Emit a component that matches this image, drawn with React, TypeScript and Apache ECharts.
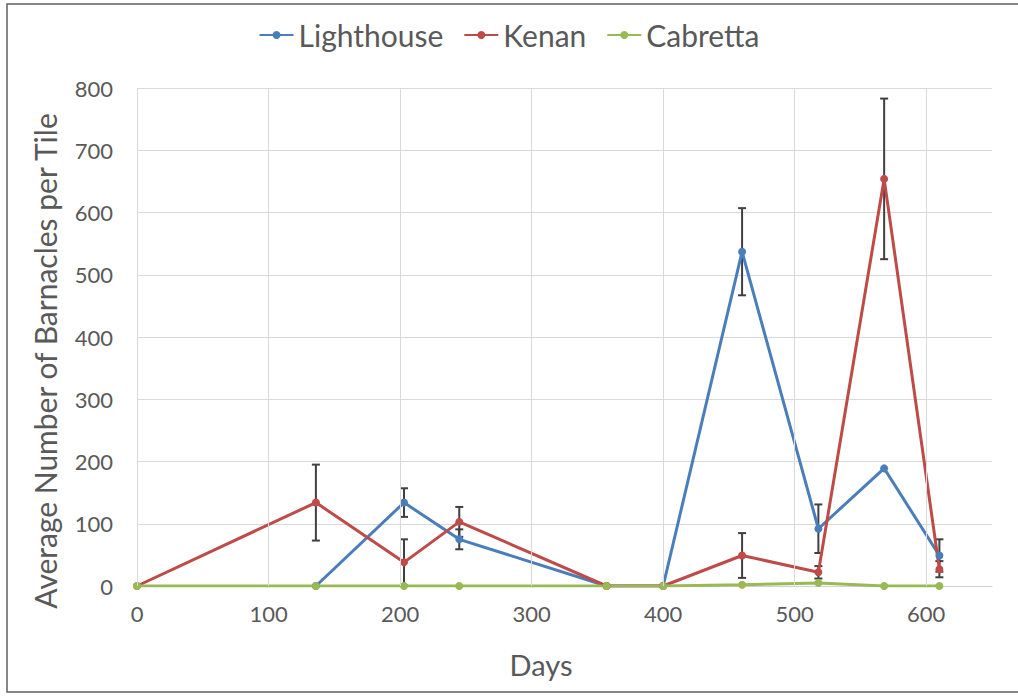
import React, { useEffect, useRef } from "react";
import * as echarts from "echarts";

const days = [0, 136, 203, 245, 357, 400, 460, 518, 568, 610];
const lighthouse = [null, 0, 134, 75, 0, 0, 537, 92, 189, 49];
const lighthouseErr = [null, null, 23, 16, null, null, 70, 39, null, 26];
const kenan = [0, 134, 38, 103, 0, 0, 49, 22, 654, 27];
const kenanErr = [null, 61, 37, 24, null, null, 36, 10, 129, 13];
const cabretta = [0, 0, 0, 0, 0, 0, 2, 5, 0, 0];
const xGridTicks = [0, 100, 200, 300, 400, 500, 600];

const FONT = "Lato, 'Open Sans', sans-serif";
const TEXT = "#595959";

function pairs(vals: (number | null)[]) {
  return days.map((d, i) => [d, vals[i]]);
}
function errData(vals: (number | null)[], errs: (number | null)[]) {
  const out: number[][] = [];
  days.forEach((d, i) => {
    const v = vals[i];
    const e = errs[i];
    if (v != null && e != null) out.push([d, Math.max(0, v - e), v + e]);
  });
  return out;
}

function errorSeries(name: string, data: number[][]) {
  return {
    type: "custom",
    name: name + " err",
    silent: true,
    z: 1,
    data,
    renderItem: (params: any, api: any) => {
      const x = api.value(0);
      const lo = api.coord([x, api.value(1)]);
      const hi = api.coord([x, api.value(2)]);
      const cap = 4;
      const style = { stroke: "#404040", lineWidth: 2 };
      return {
        type: "group",
        children: [
          { type: "line", shape: { x1: lo[0], y1: lo[1], x2: hi[0], y2: hi[1] }, style },
          { type: "line", shape: { x1: lo[0] - cap, y1: lo[1], x2: lo[0] + cap, y2: lo[1] }, style },
          { type: "line", shape: { x1: hi[0] - cap, y1: hi[1], x2: hi[0] + cap, y2: hi[1] }, style },
        ],
      };
    },
  };
}

function lineSeries(name: string, vals: (number | null)[], color: string) {
  return {
    type: "line",
    name,
    data: pairs(vals),
    z: 3,
    symbol: "circle",
    symbolSize: 8,
    showSymbol: true,
    connectNulls: false,
    itemStyle: { color },
    lineStyle: { color, width: 3 },
  };
}

export default function App() {
  const ref = useRef<HTMLDivElement>(null);
  useEffect(() => {
    if (!ref.current) return;
    const chart = echarts.init(ref.current, null, { renderer: "svg" });
    chart.setOption({
      animation: false,
      backgroundColor: "#ffffff",
      textStyle: { fontFamily: FONT },
      grid: { left: 137, right: 26, top: 88, bottom: 112 },
      legend: {
        data: ["Lighthouse", "Kenan", "Cabretta"],
        top: 15,
        left: "center",
        itemWidth: 34,
        itemHeight: 10,
        itemGap: 20,
        textStyle: { fontSize: 30, color: TEXT, fontFamily: FONT },
      },
      xAxis: {
        type: "value",
        min: 0,
        max: 650,
        interval: 100,
        axisLine: { show: true, lineStyle: { color: "#d0d0d0", width: 1 } },
        axisTick: { show: false },
        splitLine: { show: false },
        axisLabel: { showMaxLabel: false, fontSize: 22, color: TEXT, margin: 16, fontFamily: FONT },
      },
      yAxis: {
        type: "value",
        min: 0,
        max: 800,
        interval: 100,
        axisLine: { show: false },
        axisTick: { show: false },
        splitLine: { show: true, lineStyle: { color: "#d9d9d9", width: 1 } },
        axisLabel: { fontSize: 22, color: TEXT, margin: 24, fontFamily: FONT },
      },
      graphic: [
        {
          type: "rect",
          shape: { x: 7, y: 4, width: 1030, height: 688 },
          style: { fill: "none", stroke: "#606060", lineWidth: 1.5 },
          silent: true,
        },
        {
          type: "text",
          x: 45,
          y: 361,
          rotation: Math.PI / 2,
          style: {
            text: "Average Number of Barnacles per Tile",
            fontSize: 30,
            fontFamily: FONT,
            fill: TEXT,
            align: "center",
            verticalAlign: "middle",
          },
        },
        {
          type: "text",
          x: 541,
          y: 664,
          style: {
            text: "Days",
            fontSize: 29,
            fontFamily: FONT,
            fill: TEXT,
            align: "center",
            verticalAlign: "middle",
          },
        },
      ],
      series: [
        {
          type: "line",
          name: "grid",
          data: [],
          silent: true,
          z: 0,
          markLine: {
            silent: true,
            symbol: "none",
            label: { show: false },
            lineStyle: { color: "#d9d9d9", width: 1, type: "solid" },
            data: xGridTicks.map((t) => ({ xAxis: t })),
          },
        },
        errorSeries("Lighthouse", errData(lighthouse, lighthouseErr)),
        errorSeries("Kenan", errData(kenan, kenanErr)),
        lineSeries("Lighthouse", lighthouse, "#4a7ebb"),
        lineSeries("Kenan", kenan, "#be4b48"),
        lineSeries("Cabretta", cabretta, "#98b954"),
      ],
    });
    return () => chart.dispose();
  }, []);
  return (
    <div
      ref={ref}
      style={{ position: "fixed", left: 0, top: 0, width: 1018, height: 698 }}
    />
  );
}
